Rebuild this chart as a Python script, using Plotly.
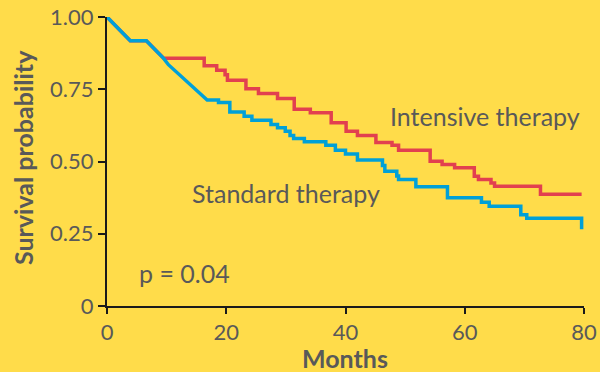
import plotly.graph_objects as go

# Kaplan-Meier curves (vertices): months, survival
t_intensive = [0, 3.9, 6.6, 9.5, 16.3, 16.3, 18.4, 18.4, 19.8, 19.8, 20.2, 20.2, 23.3, 23.3,
               25.4, 25.4, 28.6, 28.6, 31.4, 31.4, 34.1, 34.1, 37.6, 37.6, 40.1, 40.1,
               42.0, 42.0, 45.1, 45.1, 47.8, 47.8, 48.9, 48.9, 54.2, 54.2, 56.2, 56.2,
               58.3, 58.3, 61.6, 61.6, 62.3, 62.3, 64.4, 64.4, 65.0, 65.0, 72.7, 72.7, 79.6]
s_intensive = [1.0, 0.918, 0.918, 0.857, 0.857, 0.831, 0.831, 0.816, 0.816, 0.800, 0.800, 0.781,
               0.781, 0.752, 0.752, 0.735, 0.735, 0.718, 0.718, 0.681, 0.681, 0.669, 0.669,
               0.634, 0.634, 0.605, 0.605, 0.590, 0.590, 0.566, 0.566, 0.556, 0.556, 0.539,
               0.539, 0.501, 0.501, 0.490, 0.490, 0.478, 0.478, 0.449, 0.449, 0.438, 0.438,
               0.426, 0.426, 0.414, 0.414, 0.387, 0.387]

t_standard = [0, 3.9, 6.6, 9.5, 10.3, 16.8, 18.7, 18.7, 20.6, 20.6, 23.0, 23.0, 24.3, 24.3,
              27.5, 27.5, 28.6, 28.6, 29.9, 29.9, 30.7, 30.7, 31.3, 31.3, 33.1, 33.1,
              36.7, 36.7, 38.3, 38.3, 40.0, 40.0, 42.0, 42.0, 46.2, 46.2, 46.6, 46.6,
              48.6, 48.6, 48.9, 48.9, 51.8, 51.8, 57.1, 57.1, 62.8, 62.8, 64.1, 64.1,
              69.4, 69.4, 70.4, 70.4, 79.6, 79.6]
s_standard = [1.0, 0.918, 0.918, 0.857, 0.835, 0.713, 0.713, 0.704, 0.704, 0.671, 0.671, 0.657,
              0.657, 0.643, 0.643, 0.628, 0.628, 0.617, 0.617, 0.605, 0.605, 0.590, 0.590,
              0.580, 0.580, 0.568, 0.568, 0.556, 0.556, 0.539, 0.539, 0.526, 0.526, 0.505,
              0.505, 0.486, 0.486, 0.466, 0.466, 0.450, 0.450, 0.438, 0.438, 0.413, 0.413,
              0.375, 0.375, 0.359, 0.359, 0.345, 0.345, 0.316, 0.316, 0.304, 0.304, 0.266]

x_ticks = [0, 20, 40, 60, 80]
y_ticks = [0, 0.25, 0.5, 0.75, 1.0]
y_ticklabels = ["0", "0.25", "0.50", "0.75", "1.00"]

BG = "#FFDC4A"
RED = "#E2404F"
BLUE = "#00A0D8"
GREY = "#595959"
FONT = "Lato"

L, R, T, B = 107, 16, 17, 66
W, H = 600, 372

fig = go.Figure()
fig.add_trace(go.Scatter(x=t_intensive, y=s_intensive, mode="lines",
                         line=dict(color=RED, width=3.5), cliponaxis=False,
                         name="Intensive therapy", showlegend=False))
fig.add_trace(go.Scatter(x=t_standard, y=s_standard, mode="lines",
                         line=dict(color=BLUE, width=3.5), cliponaxis=False,
                         name="Standard therapy", showlegend=False))

pw, ph = W - L - R, H - T - B


def px_x(p):
    return (p - L) / pw


def px_y(p):
    return (H - B - p) / ph


fig.update_layout(
    width=W, height=H,
    margin=dict(l=L, r=R, t=T, b=B, autoexpand=False),
    paper_bgcolor=BG, plot_bgcolor=BG,
    font=dict(family=FONT, color=GREY, size=22),
    xaxis=dict(range=[0, 80], tickvals=x_ticks, showgrid=False, zeroline=False,
               automargin=False,
               showline=True, linecolor="#1a1a1a", linewidth=2,
               ticks="outside", ticklen=6, tickwidth=2, tickcolor="#1a1a1a",
               tickfont=dict(size=22, color=GREY, family=FONT)),
    yaxis=dict(range=[0, 1], tickvals=y_ticks, ticktext=y_ticklabels, showgrid=False,
               automargin=False,
               zeroline=False, showline=True, linecolor="#1a1a1a", linewidth=2,
               ticks="outside", ticklen=7, tickwidth=2, tickcolor="#1a1a1a",
               tickfont=dict(size=22, color=GREY, family=FONT)),
    annotations=[
        dict(text="Intensive therapy", x=47.1, y=0.656, xref="x", yref="y",
             xanchor="left", yanchor="middle", showarrow=False,
             font=dict(size=25, color=GREY, family=FONT)),
        dict(text="Standard therapy", x=13.9, y=0.392, xref="x", yref="y",
             xanchor="left", yanchor="middle", showarrow=False,
             font=dict(size=25, color=GREY, family=FONT)),
        dict(text="p = 0.04", x=5.0, y=0.115, xref="x", yref="y",
             xanchor="left", yanchor="middle", showarrow=False,
             font=dict(size=25, color=GREY, family=FONT)),
        dict(text="<b>Survival probability</b>", x=px_x(23), y=px_y(158),
             xref="paper", yref="paper", xanchor="center", yanchor="middle",
             showarrow=False, textangle=-90,
             font=dict(size=25, color=GREY, family=FONT)),
        dict(text="<b>Months</b>", x=px_x(345), y=px_y(358),
             xref="paper", yref="paper", xanchor="center", yanchor="middle",
             showarrow=False,
             font=dict(size=25, color=GREY, family=FONT)),
    ],
)

fig.write_html("out.html", config={"displayModeBar": False})

# remove default page margin so the figure sits at the window origin
with open("out.html", "r", encoding="utf-8") as f:
    html = f.read()
html = html.replace("<head>", "<head><style>html,body{margin:0;padding:0;overflow:hidden;}</style>", 1)
with open("out.html", "w", encoding="utf-8") as f:
    f.write(html)
